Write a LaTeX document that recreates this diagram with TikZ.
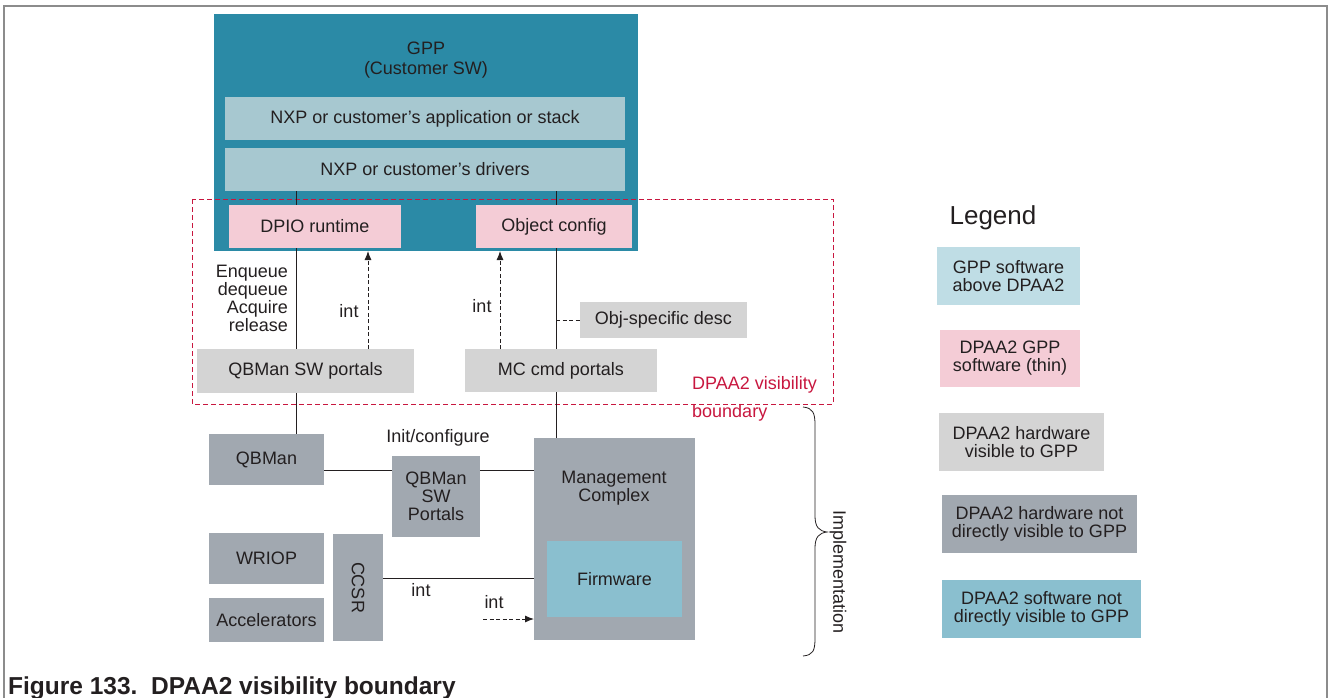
\documentclass[tikz,border=0pt]{standalone}
\usepackage{fontspec}
\setmainfont{Liberation Sans}
\usetikzlibrary{arrows.meta}
\definecolor{gppteal}{HTML}{2B8AA6}
\definecolor{swabove}{HTML}{A7C8D0}
\definecolor{legabove}{HTML}{BFDDE5}
\definecolor{thinpink}{HTML}{F4CCD6}
\definecolor{hwvis}{HTML}{D4D4D4}
\definecolor{hwnot}{HTML}{A1A8B0}
\definecolor{swnot}{HTML}{8ABFCF}
\definecolor{bndred}{HTML}{C8173F}
\definecolor{txt}{HTML}{231F20}
\definecolor{framegray}{HTML}{8C8C8C}
\newcommand{\mainfs}{\fontsize{18}{19}\selectfont}
\tikzset{
  blk/.style={inner sep=0pt, outer sep=0pt, anchor=north west, align=center, text=txt,
    font=\mainfs},
  lbl/.style={inner sep=0pt, outer sep=0pt, text=txt, font=\mainfs},
  conn/.style={draw=txt, line width=0.9pt},
  dconn/.style={draw=txt, line width=0.9pt, dash pattern=on 4pt off 2.5pt},
  darr/.style={dconn, -{Latex[length=9pt,width=7pt]}},
}
\begin{document}
\begin{tikzpicture}[x=1pt,y=-1pt]
\useasboundingbox (0,0) rectangle (1328,698);
% frame
\draw[framegray, line width=1.6pt] (4,698) -- (4,6) -- (1327,6) -- (1327,698);

% GPP
\node[blk, fill=gppteal, minimum width=424pt, minimum height=237pt] (gpp) at (214,14) {};
\node[lbl, align=center] (gppt) at (426,60) {GPP\\[1pt](Customer SW)};
\node[blk, fill=swabove, minimum width=400pt, minimum height=43pt] (app) at (225,97) {NXP or customer’s application or stack};
\node[blk, fill=swabove, minimum width=400pt, minimum height=43pt] (drv) at (225,148) {NXP or customer’s drivers};
\node[blk, fill=thinpink, minimum width=172pt, minimum height=43pt] (dpio) at (229,205) {DPIO runtime};
\node[blk, fill=thinpink, minimum width=156pt, minimum height=43pt] (objc) at (476,205) {Object config};

% boundary
\draw[bndred, line width=0.9pt, dash pattern=on 5pt off 3pt] (192,199) rectangle (833,404);
\node[inner sep=0pt, anchor=west, text=bndred, font=\mainfs] (bnd1) at (692,385) {DPAA2 visibility};
\node[inner sep=0pt, anchor=west, text=bndred, font=\mainfs] (bnd2) at (692,413) {boundary};

% visible hw
\node[blk, fill=hwvis, minimum width=217pt, minimum height=44pt] (qsp) at (197,349) {QBMan SW portals};
\node[blk, fill=hwvis, minimum width=192pt, minimum height=43pt] (mcp) at (465,349) {MC cmd portals};
\node[blk, fill=hwvis, minimum width=167pt, minimum height=36pt] (objd) at (580,302) {Obj-specific desc};

% non-visible hw
\node[blk, fill=hwnot, minimum width=115pt, minimum height=51pt] (qbm) at (209,434) {QBMan};
\node[blk, fill=hwnot, minimum width=88pt, minimum height=81pt] (qswp) at (392,456) {QBMan\\[-1pt]SW\\[-1pt]Portals};
\node[blk, fill=hwnot, minimum width=161pt, minimum height=202pt] (mc) at (534,438) {};
\node[lbl, align=center] (mct) at (614,488) {Management\\[-1pt]Complex};
\node[blk, fill=swnot, minimum width=135pt, minimum height=76pt] (fw) at (547,541) {Firmware};
\node[blk, fill=hwnot, minimum width=115pt, minimum height=51pt] (wriop) at (209,533) {WRIOP};
\node[blk, fill=hwnot, minimum width=115pt, minimum height=44pt] (acc) at (209,598) {Accelerators};
\node[blk, fill=hwnot, minimum width=50pt, minimum height=107pt] (ccsr) at (333,534) {};
\node[lbl, rotate=-90] (ccsrt) at (ccsr.center) {CCSR};

% vertical connectors
\coordinate (lx) at (296,0);
\coordinate (rx) at (556,0);
\draw[conn] (drv.south -| lx) -- (dpio.north -| lx);
\draw[conn] (dpio.south -| lx) -- (qsp.north -| lx);
\draw[conn] (qsp.south -| lx) -- (qbm.north -| lx);
\draw[conn] (drv.south -| rx) -- (objc.north -| rx);
\draw[conn] (objc.south -| rx) -- (mcp.north -| rx);
\draw[conn] (mcp.south -| rx) -- (mc.north -| rx);
\draw[dconn] (objd.west -| rx) -- (objd.west);

% int arrows
\coordinate (a1) at (368,0);
\coordinate (a2) at (500,0);
\draw[darr] (qsp.north -| a1) -- (gpp.south -| a1);
\draw[darr] (mcp.north -| a2) -- (gpp.south -| a2);
\node[lbl] (int1) at (349,311) {int};
\node[lbl] (int2) at (482,306) {int};
\node[lbl, anchor=east, align=right] (enq) at (288,298) {Enqueue\\[-1pt]dequeue\\[-1pt]Acquire\\[-1pt]release};

% lower connectors
\coordinate (y1) at (0,470);
\coordinate (y2) at (0,578);
\draw[conn] (qbm.east |- y1) -- (qswp.west |- y1);
\draw[conn] (qswp.east |- y1) -- (mc.west |- y1);
\node[lbl] (initc) at (438,438) {Init/configure};
\draw[conn] (ccsr.east |- y2) -- (mc.west |- y2);
\node[lbl] (int3) at (421,590) {int};
\node[lbl] (int4) at (494,602) {int};
\coordinate (da) at (483,619);
\draw[darr] (da) -- (mc.west |- da);

% brace
\draw[txt, line width=0.8pt] (803,407) .. controls (813,408) and (815,413) .. (815,425) -- (815,516)
  .. controls (815,527) and (819,531) .. (827,532)
  .. controls (819,533) and (815,537) .. (815,548) -- (815,638)
  .. controls (815,651) and (813,655) .. (803,656);
\node[lbl, rotate=-90] (impl) at (838,572) {Implementation};

% legend
\node[lbl, font=\fontsize{26}{28}\selectfont] (leg) at (993,218) {Legend};
\node[blk, fill=legabove, minimum width=143pt, minimum height=58pt] (l1) at (937,247) {GPP software\\[-1pt]above DPAA2};
\node[blk, fill=thinpink, minimum width=140pt, minimum height=57pt] (l2) at (940,330) {DPAA2 GPP\\[-1pt]software (thin)};
\node[blk, fill=hwvis, minimum width=165pt, minimum height=58pt] (l3) at (939,413) {DPAA2 hardware\\[-1pt]visible to GPP};
\node[blk, fill=hwnot, minimum width=195pt, minimum height=58pt] (l4) at (942,495) {DPAA2 hardware not\\[-1pt]directly visible to GPP};
\node[blk, fill=swnot, minimum width=199pt, minimum height=58pt] (l5) at (942,580) {DPAA2 software not\\[-1pt]directly visible to GPP};

% caption
\node[inner sep=0pt, anchor=west, text=txt, font=\fontsize{24.5}{26}\selectfont\bfseries] (cap) at (8,688) {Figure 133.\ \ DPAA2 visibility boundary};
\end{tikzpicture}
\end{document}
